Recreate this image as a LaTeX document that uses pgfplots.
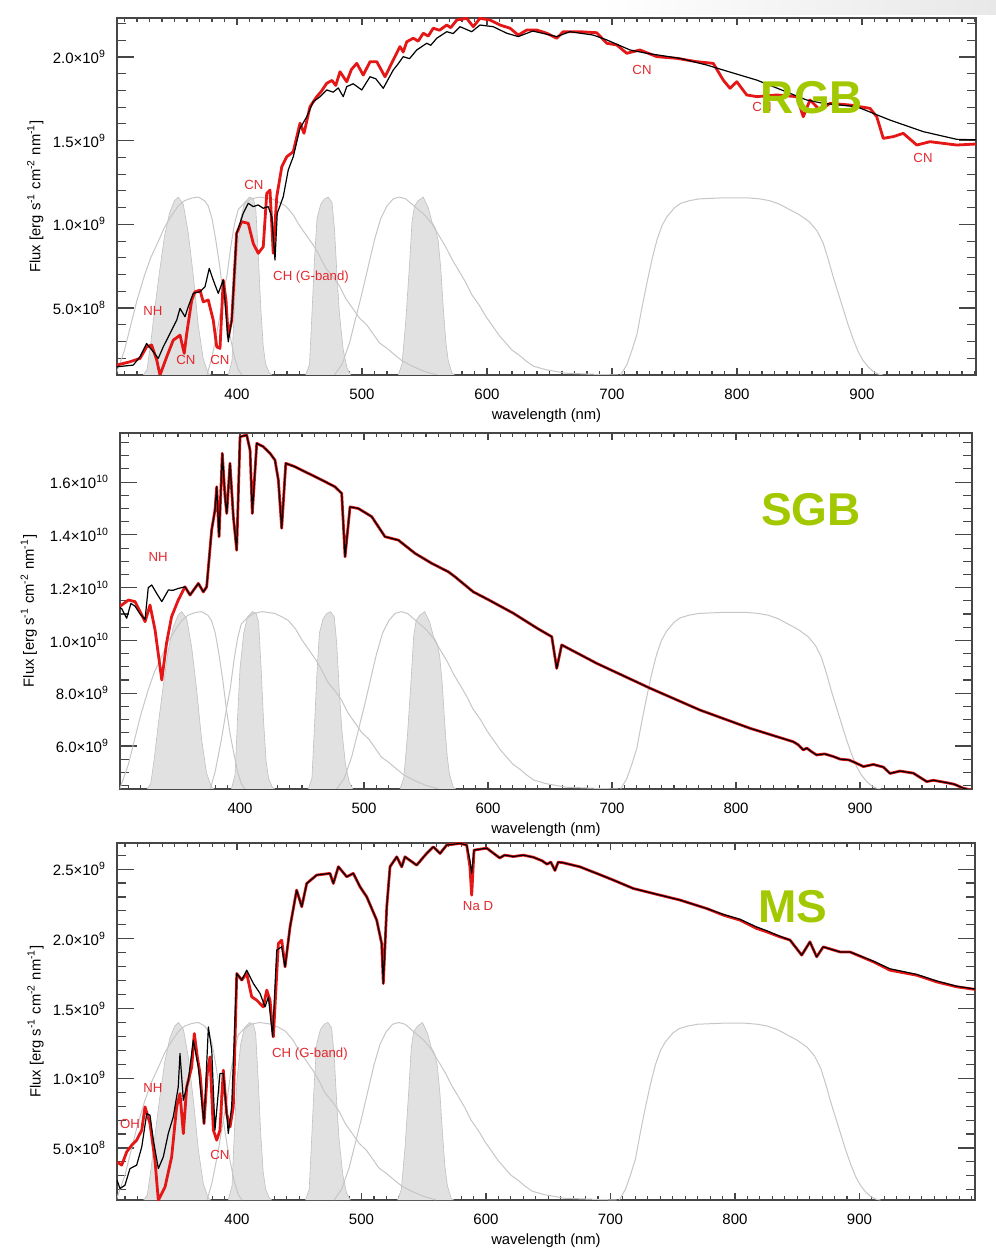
\documentclass[border=0pt]{standalone}
\usepackage{fontspec}
\setmainfont{Liberation Sans}
\usepackage{pgfplots}
\usepackage{pgfplotstable}
\pgfplotsset{compat=1.18}

\definecolor{specred}{RGB}{228,22,22}
\definecolor{labred}{RGB}{226,40,46}
\definecolor{stargreen}{RGB}{162,200,0}
\definecolor{filtfill}{RGB}{225,225,225}
\definecolor{filtedge}{RGB}{192,192,192}
\definecolor{filtline}{RGB}{198,198,198}
\definecolor{frame}{RGB}{70,70,70}

% ---------- filter transmission curves (normalised to peak = 1) ----------
\pgfplotstableread{
nm t
325 0
328 0.03
331 0.18
334 0.36
338 0.58
342 0.78
346 0.91
350 0.98
353 1.0
357 0.96
361 0.8
365 0.56
369 0.28
373 0.09
377 0.01
379 0
}\filtu
\pgfplotstableread{
nm t
393 0
396 0.08
398 0.4
400 0.68
403 0.88
406 0.97
410 1.0
413 0.99
415 0.94
417 0.68
419 0.38
421 0.16
423 0.06
426 0.01
428 0
}\filtv
\pgfplotstableread{
nm t
455 0
458 0.06
460 0.35
462 0.65
464 0.88
467 0.96
470 0.99
473 1.0
476 0.97
478 0.82
480 0.56
482 0.34
485 0.14
488 0.04
491 0
}\filtb
\pgfplotstableread{
nm t
529 0
532 0.06
535 0.3
538 0.62
540 0.86
542 0.95
545 0.98
549 1.0
553 0.94
556 0.86
559 0.82
561 0.75
563 0.6
565 0.38
567 0.19
569 0.08
572 0.01
574 0
}\filty
\pgfplotstableread{
nm t
303 0
310 0.14
315 0.28
320 0.42
326 0.56
331 0.66
337 0.75
342 0.83
348 0.9
353 0.95
358 0.98
364 0.995
369 1.0
374 0.98
377 0.95
380 0.88
383 0.76
386 0.62
389 0.45
392 0.31
395 0.2
398 0.1
401 0.03
404 0
}\filtU
\pgfplotstableread{
nm t
376 0
380 0.1
385 0.28
389 0.45
392 0.56
395 0.72
398 0.85
401 0.93
405 0.96
411 0.99
418 1.0
428 0.99
434 0.97
439 0.95
445 0.9
450 0.84
455 0.79
461 0.73
466 0.67
471 0.6
477 0.55
482 0.5
487 0.43
493 0.37
498 0.32
504 0.28
509 0.23
514 0.18
520 0.15
525 0.12
532 0.08
540 0.05
550 0.02
560 0
}\filtB
\pgfplotstableread{
nm t
478 0
484 0.06
490 0.18
495 0.32
500 0.46
505 0.61
510 0.76
515 0.88
520 0.95
525 0.99
530 1.0
535 0.99
540 0.96
545 0.93
550 0.9
556 0.85
561 0.79
567 0.72
572 0.65
578 0.58
583 0.52
588 0.45
594 0.39
599 0.33
604 0.28
610 0.22
615 0.18
620 0.14
626 0.11
631 0.08
637 0.05
647 0.03
663 0.01
690 0.003
705 0
}\filtV
\pgfplotstableread{
nm t
707 0
712 0.06
716 0.14
720 0.23
724 0.38
728 0.52
732 0.65
736 0.76
740 0.84
744 0.89
750 0.94
755 0.965
762 0.98
770 0.99
790 0.996
808 0.996
818 0.99
826 0.98
834 0.96
842 0.93
850 0.9
858 0.86
864 0.81
869 0.74
873 0.65
877 0.55
881 0.46
885 0.37
889 0.28
893 0.2
897 0.13
901 0.08
905 0.045
909 0.02
913 0.005
917 0
}\filtI

% ---------- RGB spectra (flux in 1e9 erg/s/cm2/nm) ----------
\pgfplotstableread{
nm f
303.7 0.159
314.4 0.179
322.4 0.199
327.7 0.268
331.7 0.279
335.8 0.189
338.4 0.099
343.8 0.209
349.0 0.308
354.4 0.338
357.8 0.229
359.8 0.349
363.8 0.548
366.4 0.597
370.4 0.607
373.0 0.537
377.0 0.548
381.0 0.428
383.8 0.268
386.4 0.259
389.0 0.667
391.2 0.548
393.0 0.328
395.8 0.428
399.7 0.946
403.7 1.016
409.0 1.006
413.0 0.886
417.0 0.827
421.0 0.866
423.8 1.185
426.4 1.205
429.0 0.827
431.8 1.165
435.8 1.344
439.8 1.404
445.0 1.434
450.4 1.604
453.6 1.544
458.4 1.703
463.8 1.763
467.5 1.795
471.8 1.843
476.0 1.860
479.0 1.830
482.4 1.912
487.8 1.852
491.5 1.925
495.8 1.962
501.0 1.892
506.4 1.972
511.8 1.972
518.4 1.882
525.0 1.982
530.4 2.062
533.0 2.030
535.8 2.091
541.0 2.112
545.0 2.095
549.0 2.142
553.0 2.125
557.0 2.172
562.0 2.160
567.8 2.191
571.0 2.175
575.8 2.221
583.8 2.231
589.0 2.181
594.4 2.231
602.4 2.221
610.4 2.191
618.4 2.172
625.0 2.131
631.8 2.161
639.8 2.161
647.8 2.142
655.8 2.112
661.0 2.151
674.4 2.151
687.8 2.145
695.8 2.082
703.8 2.072
711.8 2.022
722.4 2.042
735.8 2.002
751.8 1.992
767.8 1.972
781.0 1.962
789.0 1.862
794.4 1.813
799.8 1.852
807.8 1.773
815.8 1.763
831.8 1.773
847.8 1.763
853.0 1.643
858.4 1.743
866.4 1.683
874.4 1.723
890.4 1.713
906.4 1.693
911.8 1.643
917.0 1.514
925.0 1.524
933.0 1.544
943.8 1.474
954.4 1.494
965.0 1.484
975.8 1.474
991.0 1.480
}\rgbred
\pgfplotstableread{
nm f
303.7 0.149
317.0 0.159
322.4 0.209
327.7 0.288
333.0 0.239
337.0 0.199
341.0 0.268
346.4 0.348
351.8 0.428
354.4 0.498
358.4 0.448
361.0 0.508
365.0 0.588
370.4 0.597
374.4 0.627
377.8 0.737
381.0 0.667
385.0 0.588
389.0 0.667
393.0 0.298
395.8 0.428
399.7 0.946
405.0 1.066
409.0 1.126
413.0 1.106
417.0 1.116
421.0 1.096
425.0 1.106
427.8 1.046
430.4 0.787
432.2 1.066
437.0 1.165
441.0 1.325
445.0 1.404
450.4 1.574
455.8 1.643
461.0 1.733
466.0 1.760
471.8 1.803
477.0 1.790
481.0 1.815
485.0 1.763
487.8 1.823
493.0 1.840
499.8 1.803
506.4 1.882
511.0 1.870
517.0 1.813
525.0 1.922
529.0 1.960
533.0 2.002
538.0 1.990
543.8 2.042
551.8 2.082
555.0 2.070
559.8 2.112
567.8 2.151
573.0 2.140
578.4 2.181
587.8 2.151
594.4 2.191
605.0 2.181
615.8 2.142
625.0 2.122
636.6 2.155
655.8 2.122
666.4 2.151
685.0 2.131
695.8 2.102
714.4 2.042
727.8 2.022
754.4 1.992
775.8 1.952
789.0 1.922
815.8 1.862
842.4 1.783
855.8 1.743
869.0 1.723
895.8 1.703
922.4 1.623
949.0 1.554
975.8 1.508
991.0 1.505
}\rgbblack

% ---------- SGB spectra (flux in 1e10 erg/s/cm2/nm) ----------
\pgfplotstableread{
nm f
303.2 1.130
304.6 1.134
310.0 1.153
315.3 1.147
319.4 1.109
323.4 1.071
327.4 1.134
331.5 1.039
336.9 0.850
340.7 0.989
344.8 1.090
350.2 1.153
355.6 1.203
359.7 1.172
366.4 1.216
370.4 1.184
373.1 1.203
377.1 1.418
379.8 1.494
381.2 1.582
383.1 1.393
385.7 1.709
387.9 1.544
389.3 1.481
391.9 1.671
394.6 1.469
397.3 1.342
400.0 1.772
405.4 1.778
408.1 1.721
409.9 1.481
413.5 1.747
418.8 1.734
424.2 1.709
428.2 1.683
430.9 1.608
433.6 1.425
436.9 1.671
444.4 1.658
449.8 1.645
455.1 1.633
465.9 1.608
476.6 1.582
482.0 1.557
484.7 1.317
488.7 1.506
495.4 1.500
506.2 1.469
516.9 1.393
527.7 1.380
541.1 1.330
554.6 1.292
568.0 1.260
573.4 1.241
588.1 1.184
600.0 1.155
620.4 1.103
640.0 1.045
651.4 1.014
655.4 0.894
659.4 0.983
687.7 0.913
730.6 0.819
771.0 0.736
811.3 0.667
846.2 0.616
850.0 0.605
854.3 0.585
857.0 0.592
861.0 0.578
865.0 0.566
871.5 0.570
878.5 0.560
884.0 0.550
891.1 0.547
897.0 0.535
902.7 0.522
910.8 0.530
918.8 0.520
924.2 0.496
932.3 0.505
943.0 0.497
953.8 0.465
959.1 0.470
969.8 0.461
976.0 0.455
983.3 0.440
990.3 0.432
}\sgbred
\pgfplotstableread{
nm f
303.2 1.125
304.6 1.120
308.6 1.084
312.0 1.140
315.3 1.130
319.4 1.100
323.4 1.080
326.0 1.200
328.8 1.210
332.8 1.178
336.9 1.147
342.2 1.191
346.0 1.190
350.2 1.197
355.6 1.203
359.7 1.172
366.4 1.216
370.4 1.184
373.1 1.203
377.1 1.418
379.8 1.494
381.2 1.582
383.1 1.393
385.7 1.709
387.9 1.544
389.3 1.481
391.9 1.671
394.6 1.469
397.3 1.342
400.0 1.772
405.4 1.778
408.1 1.721
409.9 1.481
413.5 1.747
418.8 1.734
424.2 1.709
428.2 1.683
430.9 1.608
433.6 1.425
436.9 1.671
444.4 1.658
449.8 1.645
455.1 1.633
465.9 1.608
476.6 1.582
482.0 1.557
484.7 1.317
488.7 1.506
495.4 1.500
506.2 1.469
516.9 1.393
527.7 1.380
541.1 1.330
554.6 1.292
568.0 1.260
573.4 1.241
588.1 1.184
600.0 1.155
620.4 1.103
640.0 1.045
651.4 1.014
655.4 0.894
659.4 0.983
687.7 0.913
730.6 0.819
771.0 0.736
811.3 0.667
846.2 0.616
850.0 0.605
854.3 0.585
857.0 0.592
861.0 0.578
865.0 0.566
871.5 0.570
878.5 0.560
884.0 0.550
891.1 0.547
897.0 0.535
902.7 0.522
910.8 0.530
918.8 0.520
924.2 0.496
932.3 0.505
943.0 0.497
953.8 0.465
959.1 0.470
969.8 0.461
976.0 0.455
983.3 0.440
990.3 0.432
}\sgbblack

% ---------- MS spectra (flux in 1e9 erg/s/cm2/nm) ----------
\pgfplotstableread{
nm f
303.6 0.400
307.4 0.377
311.4 0.472
315.4 0.520
319.4 0.556
323.5 0.628
326.1 0.795
330.1 0.675
334.1 0.412
336.8 0.125
342.2 0.221
347.5 0.436
351.5 0.795
354.2 0.890
356.9 0.604
359.6 0.938
363.6 1.081
365.7 1.321
368.1 1.153
370.3 1.034
373.5 0.675
376.1 1.034
378.3 1.153
381.0 0.628
383.7 0.556
386.3 0.628
389.0 1.058
391.7 0.747
394.4 0.651
397.0 0.795
399.8 1.751
403.8 1.704
407.8 1.751
411.8 1.584
415.8 1.560
421.1 1.512
423.9 1.632
426.5 1.560
429.2 1.297
433.2 1.966
435.9 1.990
438.6 1.799
442.6 2.085
447.9 2.349
452.0 2.230
456.0 2.397
464.0 2.457
474.7 2.469
477.4 2.397
481.4 2.517
488.1 2.445
493.4 2.469
498.8 2.373
504.2 2.301
512.2 2.134
516.2 1.966
517.5 1.679
520.3 2.230
522.9 2.517
528.3 2.588
532.3 2.516
534.9 2.588
544.3 2.528
552.3 2.612
557.7 2.660
563.1 2.612
568.4 2.672
579.1 2.684
584.5 2.672
587.1 2.516
588.5 2.313
590.4 2.636
600.6 2.650
605.0 2.620
611.0 2.580
615.0 2.600
622.0 2.590
630.0 2.600
638.0 2.585
645.0 2.560
649.0 2.535
652.0 2.550
655.4 2.490
658.0 2.550
662.1 2.545
675.5 2.516
688.9 2.469
702.3 2.421
718.3 2.361
734.4 2.325
755.8 2.278
777.3 2.217
790.6 2.170
804.0 2.134
817.4 2.074
825.5 2.050
836.1 2.014
844.2 1.991
853.6 1.883
860.2 1.978
865.6 1.871
870.9 1.942
884.3 1.906
892.3 1.906
911.1 1.835
924.5 1.775
945.9 1.739
962.0 1.691
978.0 1.656
992.8 1.637
}\msred
\pgfplotstableread{
nm f
303.6 0.270
306.0 0.209
310.0 0.233
314.0 0.352
319.4 0.377
323.5 0.508
327.5 0.747
330.1 0.735
332.8 0.556
336.8 0.352
340.8 0.436
344.8 0.604
348.8 0.723
352.8 0.938
354.2 1.177
356.9 0.842
360.9 0.986
364.9 1.273
368.9 1.081
373.5 0.675
377.0 1.368
379.7 1.201
382.3 0.628
386.3 1.034
389.0 1.034
393.0 0.604
395.7 0.795
399.8 1.751
403.8 1.704
407.8 1.775
413.1 1.680
418.5 1.608
422.5 1.512
425.2 1.584
428.6 1.297
431.9 1.919
435.9 1.943
438.6 1.799
442.6 2.085
447.9 2.349
452.0 2.230
456.0 2.397
464.0 2.457
474.7 2.469
477.4 2.397
481.4 2.517
488.1 2.445
493.4 2.469
498.8 2.373
504.2 2.301
512.2 2.134
516.2 1.966
517.5 1.679
520.3 2.230
522.9 2.517
528.3 2.588
532.3 2.516
534.9 2.588
544.3 2.528
552.3 2.612
557.7 2.660
563.1 2.612
568.4 2.672
579.1 2.684
584.5 2.672
587.1 2.560
588.5 2.469
590.4 2.636
600.6 2.650
605.0 2.620
611.0 2.580
615.0 2.600
622.0 2.590
630.0 2.600
638.0 2.585
645.0 2.560
649.0 2.535
652.0 2.550
655.4 2.490
658.0 2.550
662.1 2.545
675.5 2.516
688.9 2.469
702.3 2.421
718.3 2.361
734.4 2.325
755.8 2.278
777.3 2.217
790.6 2.175
804.0 2.140
817.4 2.085
825.5 2.058
836.1 2.018
844.2 1.991
853.6 1.883
860.2 1.978
865.6 1.871
870.9 1.942
884.3 1.906
892.3 1.906
911.1 1.840
924.5 1.785
945.9 1.745
962.0 1.698
978.0 1.660
992.8 1.640
}\msblack

\pgfplotsset{
  specaxis/.style={
    scale only axis, anchor=south west,
    axis line style={frame, line width=0.7pt},
    every tick/.style={frame, line width=0.55pt},
    major tick length=8.5pt, minor tick length=4.3pt,
    every major x tick/.append style={/pgfplots/major tick length=3.5pt},
    every minor x tick/.append style={/pgfplots/minor tick length=1.8pt},
    xtick={400,500,...,900},
    minor xtick={310,320,...,990},
    tick label style={font=\fontsize{7.5}{8}\selectfont, text=black},
    /pgf/number format/assume math mode=true,
    xticklabel style={yshift=-3.3pt},
    yticklabel style={xshift=-2pt},
    xlabel={wavelength (nm)},
    ylabel={Flux [erg s\textsuperscript{-1} cm\textsuperscript{-2} nm\textsuperscript{-1}]},
    label style={font=\fontsize{7.4}{8}\selectfont, text=black},
    xlabel style={at={(axis description cs:0.5,-0.115)}, anchor=center},
    ylabel style={at={(axis description cs:-0.095,0.5)}, anchor=center},
  },
}
\tikzset{
  filtarea/.style={fill=filtfill, draw=filtedge, line width=0.3pt},
  filtcurve/.style={draw=filtline, line width=0.5pt},
  redspec/.style={draw=specred, line width=1.4pt, line join=round},
  blackspec/.style={draw=black, line width=0.6pt, line join=round},
  note/.style={font=\fontsize{6.6}{7}\selectfont, text=labred},
}

% the eight passbands, scaled to a baseline #1 and a peak height #2
\newcommand{\filterset}[2]{%
  \addplot[filtarea] table[x=nm, y expr={#1+\thisrow{t}*#2}] {\filtu};
  \addplot[filtarea] table[x=nm, y expr={#1+\thisrow{t}*#2}] {\filtv};
  \addplot[filtarea] table[x=nm, y expr={#1+\thisrow{t}*#2}] {\filtb};
  \addplot[filtarea] table[x=nm, y expr={#1+\thisrow{t}*#2}] {\filty};
  \addplot[filtcurve] table[x=nm, y expr={#1+\thisrow{t}*#2}] {\filtU};
  \addplot[filtcurve] table[x=nm, y expr={#1+\thisrow{t}*#2}] {\filtB};
  \addplot[filtcurve] table[x=nm, y expr={#1+\thisrow{t}*#2}] {\filtV};
  \addplot[filtcurve] table[x=nm, y expr={#1+\thisrow{t}*#2}] {\filtI};
}

\begin{document}
\begin{tikzpicture}
\path[use as bounding box] (0,0) rectangle (498pt,624.5pt);
\shade[left color=white, right color=black!9] (300pt,617pt) rectangle (498pt,624.5pt);

% ---------------- RGB ----------------
\begin{axis}[specaxis, at={(58.5pt,437pt)}, width=429.5pt, height=178.5pt,
  xmin=304, xmax=991.2, ymin=0.10, ymax=2.233,
  ytick={0.5,1.0,1.5,2.0},
  yticklabels={5.0×10\textsuperscript{8},1.0×10\textsuperscript{9},1.5×10\textsuperscript{9},2.0×10\textsuperscript{9}},
  minor ytick={0.2,0.3,...,2.2}]
\filterset{0.10}{1.063}
\addplot[redspec] table[x=nm,y=f] {\rgbred};
\addplot[blackspec] table[x=nm,y=f] {\rgbblack};
\node[note] at (axis cs:332.8,0.482) {NH};
\node[note] at (axis cs:359.2,0.189) {CN};
\node[note] at (axis cs:386.4,0.189) {CN};
\node[note] at (axis cs:413.6,1.235) {CN};
\node[note] at (axis cs:459.2,0.685) {CH (G-band)};
\node[note] at (axis cs:724.0,1.922) {CN};
\node[note] at (axis cs:820.0,1.701) {CN};
\node[note] at (axis cs:948.8,1.396) {CN};
\end{axis}
\node[font=\bfseries\fontsize{23}{23}\selectfont, text=stargreen] at (406pt,575.5pt) {RGB};

% ---------------- SGB ----------------
\begin{axis}[specaxis, at={(60pt,230pt)}, width=426pt, height=178pt,
  xmin=303.2, xmax=990.3, ymin=0.437, ymax=1.786,
  ytick={0.6,0.8,1.0,1.2,1.4,1.6},
  yticklabels={6.0×10\textsuperscript{9},8.0×10\textsuperscript{9},1.0×10\textsuperscript{10},1.2×10\textsuperscript{10},1.4×10\textsuperscript{10},1.6×10\textsuperscript{10}},
  minor ytick={0.45,0.5,...,1.75},
  ylabel style={at={(axis description cs:-0.107,0.5)}, anchor=center}]
\filterset{0.437}{0.672}
\addplot[redspec] table[x=nm,y=f] {\sgbred};
\addplot[blackspec] table[x=nm,y=f] {\sgbblack};
\node[note] at (axis cs:333.9,1.316) {NH};
\end{axis}
\node[font=\bfseries\fontsize{23}{23}\selectfont, text=stargreen] at (405.5pt,369.5pt) {SGB};

% ---------------- MS ----------------
\begin{axis}[specaxis, at={(58.5pt,24.5pt)}, width=429pt, height=178.5pt,
  xmin=303.6, xmax=992.8, ymin=0.127, ymax=2.687,
  ytick={0.5,1.0,1.5,2.0,2.5},
  yticklabels={5.0×10\textsuperscript{8},1.0×10\textsuperscript{9},1.5×10\textsuperscript{9},2.0×10\textsuperscript{9},2.5×10\textsuperscript{9}},
  minor ytick={0.2,0.3,...,2.6}]
\filterset{0.127}{1.273}
\addplot[redspec] table[x=nm,y=f] {\msred};
\addplot[blackspec] table[x=nm,y=f] {\msblack};
\node[note] at (axis cs:314.1,0.671) {OH};
\node[note] at (axis cs:332.5,0.929) {NH};
\node[note] at (axis cs:386.3,0.448) {CN};
\node[note] at (axis cs:458.6,1.173) {CH (G-band)};
\node[note] at (axis cs:593.6,2.235) {Na D};
\end{axis}
\node[font=\bfseries\fontsize{23}{23}\selectfont, text=stargreen] at (396.5pt,171pt) {MS};
\end{tikzpicture}
\end{document}
